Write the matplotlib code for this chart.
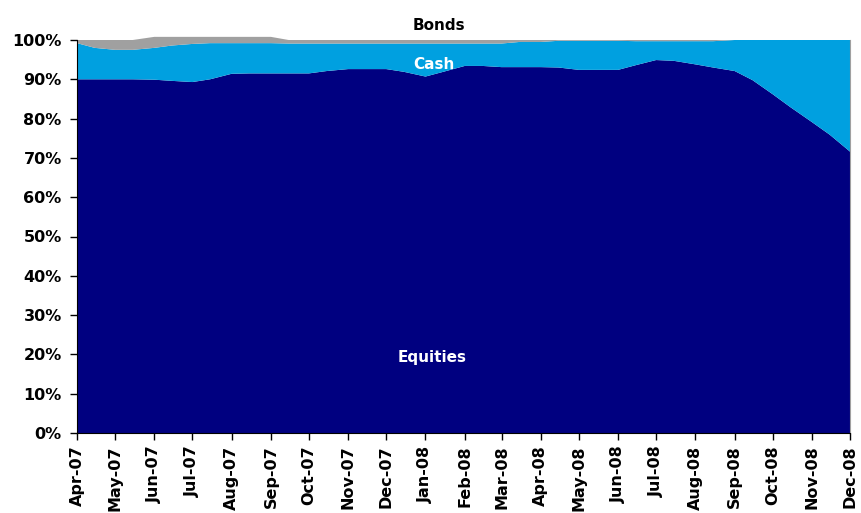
import datetime as dt
import matplotlib
matplotlib.use("Agg")
import matplotlib.pyplot as plt
import matplotlib.dates as mdates
from matplotlib.ticker import FuncFormatter

# half-monthly observations, % of portfolio
dates = ["2007-04-01", "2007-04-15", "2007-05-01", "2007-05-15", "2007-06-01", "2007-06-15",
         "2007-07-01", "2007-07-15", "2007-08-01", "2007-08-15", "2007-09-01", "2007-09-15",
         "2007-10-01", "2007-10-15", "2007-11-01", "2007-11-15", "2007-12-01", "2007-12-15",
         "2008-01-01", "2008-01-15", "2008-02-01", "2008-02-15", "2008-03-01", "2008-03-15",
         "2008-04-01", "2008-04-15", "2008-05-01", "2008-05-15", "2008-06-01", "2008-06-15",
         "2008-07-01", "2008-07-15", "2008-08-01", "2008-08-15", "2008-09-01", "2008-09-15",
         "2008-10-01", "2008-10-15", "2008-11-01", "2008-11-15", "2008-12-01"]
equities = [90.0, 90.0, 90.0, 90.0, 89.9, 89.6, 89.3, 90.0, 91.4, 91.5, 91.5, 91.5,
            91.5, 92.1, 92.6, 92.6, 92.6, 91.9, 90.7, 91.9, 93.4, 93.4, 93.1, 93.1,
            93.1, 93.0, 92.4, 92.4, 92.4, 93.6, 94.9, 94.7, 93.8, 93.0, 92.1, 89.8,
            86.2, 82.9, 79.1, 75.9, 71.6]
cash = [9.2, 8.0, 7.5, 7.5, 8.1, 9.0, 9.7, 9.2, 7.8, 7.7, 7.7, 7.6,
        7.6, 7.0, 6.5, 6.5, 6.5, 7.2, 8.4, 7.2, 5.7, 5.7, 6.0, 6.4,
        6.4, 6.8, 7.4, 7.4, 7.4, 6.1, 4.8, 5.0, 5.9, 6.7, 7.9, 10.2,
        13.8, 17.1, 20.9, 24.1, 28.4]
bonds = [0.8, 2.0, 2.5, 2.5, 2.8, 2.2, 1.8, 1.6, 1.6, 1.6, 1.6, 0.9,
         0.9, 0.9, 0.9, 0.9, 0.9, 0.9, 0.9, 0.9, 0.9, 0.9, 0.9, 0.5,
         0.5, 0.2, 0.2, 0.2, 0.2, 0.3, 0.3, 0.3, 0.3, 0.3, 0.0, 0.0,
         0.0, 0.0, 0.0, 0.0, 0.0]

x = [dt.datetime.strptime(d, "%Y-%m-%d") for d in dates]

fig = plt.figure(figsize=(8.61, 5.13), dpi=100)
ax = fig.add_axes([77 / 861, 80 / 513, 773 / 861, 393 / 513])

polys = ax.stackplot(x, equities, cash, bonds,
                     colors=["#000080", "#00A0E0", "#A0A0A0"], linewidth=0)
for p in polys:
    p.set_clip_on(False)

ax.set_xlim(x[0], x[-1])
ax.set_ylim(0, 100)
ax.set_yticks(range(0, 101, 10))
ax.yaxis.set_major_formatter(FuncFormatter(lambda v, pos: f"{v:.0f}%"))
ax.xaxis.set_major_locator(mdates.MonthLocator())
ax.xaxis.set_major_formatter(mdates.DateFormatter("%b-%y"))

ax.tick_params(axis="both", direction="out", length=5, width=1)
ax.tick_params(axis="y", labelsize=11.5, pad=6)
ax.tick_params(axis="x", labelrotation=90, labelsize=11.5, pad=4)
for lbl in ax.get_xticklabels() + ax.get_yticklabels():
    lbl.set_fontweight("bold")

ax.spines["top"].set_visible(False)
ax.spines["right"].set_color("#A0A0A0")

ax.text(dt.datetime(2008, 1, 12), 103.6, "Bonds", color="black", fontsize=11,
        fontweight="bold", ha="center", va="center")
ax.text(dt.datetime(2008, 1, 8), 93.8, "Cash", color="white", fontsize=11,
        fontweight="bold", ha="center", va="center")
ax.text(dt.datetime(2008, 1, 6), 19.1, "Equities", color="white", fontsize=11,
        fontweight="bold", ha="center", va="center")

fig.savefig("out.png", dpi=100)
